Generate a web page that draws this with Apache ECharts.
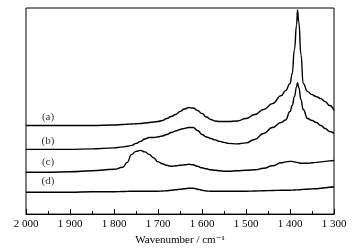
<!DOCTYPE html>
<html>
<head>
<meta charset="utf-8">
<script src="https://cdn.jsdelivr.net/npm/echarts@6/dist/echarts.min.js"></script>
<style>
  html, body { margin: 0; padding: 0; background: #fff; }
  #chart { width: 355px; height: 251px; }
</style>
</head>
<body>
<div id="chart"></div>
<script>
  // wavenumber grid (cm-1), shared by all spectra
  const wavenumbers = [2000, 1950, 1900, 1850, 1800, 1780, 1770, 1760, 1750, 1740,
    1730, 1720, 1710, 1700, 1690, 1680, 1670, 1660, 1650, 1640,
    1630, 1620, 1610, 1600, 1590, 1580, 1570, 1560, 1550, 1540,
    1520, 1500, 1480, 1460, 1440, 1420, 1410, 1400, 1395, 1390,
    1385, 1383, 1380, 1375, 1370, 1360, 1350, 1340, 1330, 1320,
    1310, 1300];

  // intensities (arbitrary units, curves already offset)
  const spectrumA = [89, 89, 89, 89, 89.5, 90, 90.2, 90.5, 90.8, 91,
    91.5, 92, 92.5, 93, 94, 96, 98, 100, 103, 105.5,
    107, 106.5, 104, 101, 97.5, 95, 93.5, 93, 93, 93,
    93.5, 96, 100, 105, 111, 119, 124, 131, 141, 165,
    190, 205, 193, 160, 131, 123, 120, 118, 116, 113,
    109, 104];
  const spectrumB = [65, 65, 65, 65.5, 66.5, 67.5, 68.2, 69, 71, 73,
    75.5, 77, 77, 77.5, 78.5, 80, 82, 83.5, 85, 86,
    87, 87, 84, 80, 77.5, 76, 74.5, 73, 72, 71,
    70.5, 71.5, 75, 81, 87, 92, 94.5, 103, 109, 118,
    128, 132, 127, 115, 105, 96, 94, 92, 89, 86,
    83, 81];
  const spectrumC = [42, 42, 42.5, 43.5, 45, 47, 52, 60, 63, 64,
    62.5, 60, 56.5, 52.5, 50.5, 49, 48, 48.5, 49, 49.5,
    50, 49.5, 48, 46.5, 45.5, 44.5, 44, 43.5, 43, 43,
    43.5, 44, 44.5, 46, 48.5, 51.5, 52.5, 53, 53, 52.5,
    52, 52, 51.5, 51, 51, 51, 51.5, 52, 52.5, 53,
    53.5, 54];
  const spectrumD = [22, 22, 22, 22.5, 22.5, 22.7, 22.8, 23, 23, 23,
    23, 23, 23, 23, 23.2, 23.5, 24, 24.5, 25, 25.5,
    26, 26, 25, 24, 23.2, 23, 23, 23, 23, 23,
    23, 23, 23.2, 23.5, 23.7, 24, 24, 24, 24.1, 24.2,
    24.3, 24.3, 24.4, 24.6, 24.8, 25, 25.3, 25.5, 26, 26.5,
    27, 27.5];

  const curveNames = ['(a)', '(b)', '(c)', '(d)'];
  const labelWavenumber = 1950;
  const labelLevels = [97, 73, 52, 33];

  const font = '"Liberation Serif", "DejaVu Serif", serif';
  const spectra = [spectrumA, spectrumB, spectrumC, spectrumD];

  const lineSeries = spectra.map((vals, i) => ({
    name: curveNames[i],
    type: 'line',
    data: wavenumbers.map((w, j) => [w, vals[j]]),
    smooth: 0.5,
    smoothMonotone: 'x',
    showSymbol: false,
    lineStyle: { color: '#000', width: 1.4 },
    animation: false,
  }));

  const labelSeries = {
    type: 'scatter',
    symbolSize: 0,
    data: curveNames.map((n, i) => ({ value: [labelWavenumber, labelLevels[i]], name: n })),
    label: {
      show: true,
      position: 'inside',
      formatter: (p) => p.name,
      color: '#000',
      fontFamily: font,
      fontSize: 11,
    },
    animation: false,
  };

  const chart = echarts.init(document.getElementById('chart'));
  chart.setOption({
    backgroundColor: '#fff',
    grid: {
      left: 26,
      right: 21,
      top: 8,
      bottom: 36,
      show: true,
      borderColor: '#000',
      borderWidth: 1,
    },
    xAxis: {
      type: 'value',
      min: 1300,
      max: 2000,
      interval: 100,
      inverse: true,
      name: 'Wavenumber / cm\u207B\u00B9',
      nameLocation: 'middle',
      nameGap: 20,
      nameTextStyle: { color: '#000', fontFamily: font, fontSize: 11 },
      axisLine: { show: true, lineStyle: { color: '#000', width: 1 } },
      axisTick: { show: true, inside: true, length: 5, lineStyle: { color: '#000' } },
      minorTick: { show: true, splitNumber: 2, length: 3, lineStyle: { color: '#000' } },
      splitLine: { show: false },
      axisLabel: {
        color: '#000',
        fontFamily: font,
        fontSize: 11,
        margin: 5,
        formatter: (v) => String(v).replace(/\B(?=(\d{3})+(?!\d))/g, ' '),
      },
    },
    yAxis: {
      type: 'value',
      min: 0,
      max: 207,
      axisLine: { show: false },
      axisTick: { show: false },
      axisLabel: { show: false },
      splitLine: { show: false },
    },
    series: [...lineSeries, labelSeries],
  });
</script>
</body>
</html>
